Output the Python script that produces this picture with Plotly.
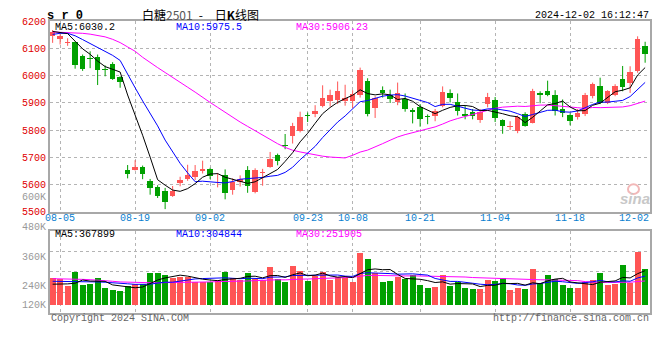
import pandas as pd
import plotly.graph_objects as go

W, H = 660, 360

# ---------------- data ----------------
holidays = ["2024-09-16", "2024-09-17", "2024-10-01", "2024-10-02", "2024-10-03",
            "2024-10-04", "2024-10-07"]
days = [d for d in pd.bdate_range("2024-08-02", "2024-12-02")
        if d.strftime("%Y-%m-%d") not in holidays]
dates = [d.strftime("%m-%d") for d in days]

opens = [6147, 6136, 6120, 6124, 6071, 6064, 6068, 6026, 6043, 5997,
         5652, 5655, 5666, 5612, 5590, 5575, 5560, 5605, 5620, 5629,
         5650, 5656, 5623, 5634, 5582, 5611, 5652, 5574, 5642, 5664,
         5708, 5747, 5777, 5798, 5857, 5861, 5888, 5908, 5911, 5908,
         5908, 5930, 5982, 5880, 5949, 5931, 5902, 5913, 5874, 5887,
         5852, 5852, 5890, 5936, 5904, 5859, 5868, 5836, 5898, 5911,
         5836, 5810, 5797, 5860, 5827, 5937, 5943, 5931, 5878, 5857,
         5848, 5858, 5926, 5961, 5900, 5929, 5990, 5975, 6017, 6109]
highs = [6168, 6153, 6138, 6126, 6078, 6090, 6078, 6038, 6050, 5998,
         5672, 5690, 5670, 5621, 5598, 5588, 5595, 5629, 5673, 5672,
         5688, 5662, 5643, 5656, 5623, 5634, 5668, 5660, 5658, 5720,
         5714, 5786, 5827, 5868, 5865, 5892, 5965, 5949, 5979, 5967,
         5947, 6030, 5991, 5925, 5961, 5949, 5975, 5935, 5881, 5896,
         5858, 5878, 5961, 5950, 5935, 5890, 5878, 5878, 5937, 5922,
         5840, 5833, 5854, 5866, 5952, 5943, 5982, 5947, 5913, 5862,
         5878, 5937, 5975, 5993, 5947, 5969, 6036, 6035, 6145, 6125]
lows = [6121, 6115, 6110, 6026, 6018, 6028, 5966, 5998, 5985, 5956,
        5623, 5652, 5620, 5563, 5551, 5510, 5555, 5594, 5614, 5617,
        5641, 5620, 5590, 5546, 5563, 5593, 5570, 5568, 5596, 5662,
        5671, 5730, 5751, 5792, 5830, 5848, 5884, 5887, 5896, 5890,
        5881, 5920, 5851, 5845, 5920, 5900, 5892, 5868, 5825, 5813,
        5822, 5833, 5884, 5902, 5854, 5840, 5840, 5827, 5884, 5830,
        5787, 5801, 5789, 5813, 5825, 5899, 5925, 5854, 5848, 5818,
        5839, 5852, 5917, 5896, 5896, 5925, 5943, 5937, 6011, 6048]
closes = [6160, 6148, 6123, 6038, 6026, 6060, 6023, 6022, 5988, 5976,
          5638, 5665, 5640, 5587, 5560, 5538, 5575, 5617, 5637, 5651,
          5656, 5633, 5626, 5570, 5611, 5622, 5594, 5655, 5648, 5694,
          5688, 5742, 5815, 5847, 5851, 5872, 5919, 5928, 5943, 5919,
          5933, 6020, 5858, 5919, 5938, 5914, 5935, 5878, 5867, 5840,
          5847, 5872, 5940, 5920, 5870, 5853, 5852, 5866, 5923, 5846,
          5816, 5814, 5848, 5816, 5943, 5931, 5928, 5872, 5862, 5833,
          5862, 5931, 5970, 5900, 5943, 5963, 5959, 6014, 6135, 6080]
volumes = [288800, 281900, 206300, 350700, 213200, 230300, 288800, 185700, 161600, 151300,
           206300, 223500, 223500, 347200, 340400, 316300, 292200, 302500, 295700, 247500,
           247500, 247500, 268200, 357600, 288800, 268200, 347200, 281900, 268200, 409100,
           275000, 247500, 419400, 367900, 257900, 306000, 357600, 271600, 299100, 288800,
           247500, 557000, 495100, 340400, 247500, 257900, 295700, 281900, 326600, 216600,
           185700, 196000, 316300, 206300, 247500, 185700, 175300, 175300, 271600, 254400,
           288800, 161600, 185700, 175300, 381600, 237200, 316300, 278500, 216600, 185700,
           185700, 244100, 264700, 340400, 220000, 223500, 429800, 237200, 567300, 381600]

# moving-average values before a full window exists
price_ma5_head = [6163, 6160, 6155, 6127]
price_ma10_head = [6152, 6156, 6156, 6147, 6133, 6118, 6103, 6090, 6075]
price_ma30_head = [6161, 6160, 6159, 6158, 6156, 6153, 6149, 6143, 6134, 6122,
                   6106, 6090, 6068, 6048, 6030, 6012, 5995, 5977, 5958, 5940,
                   5920, 5902, 5884, 5866, 5846, 5830, 5814, 5798, 5780]
vol_ma5_head = [223500, 223500, 226900, 233800]
vol_ma10_head = [254400, 254400, 251000, 251000, 247500, 247500, 247500, 244100, 240700]
vol_ma30_head = [281900, 281900, 281900, 278500, 275000, 271600, 268200, 261300, 254400, 247500,
                 244100, 240700, 237200, 233800, 237200, 240700, 240700, 244100, 244100, 244100,
                 244100, 247500, 251000, 251000, 254400, 257900, 257900, 261300, 264700]

price_ticks = [5500, 5600, 5700, 5800, 5900, 6000, 6100, 6200]
date_ticks = ["08-05", "08-19", "09-02", "09-23", "10-08", "10-21", "11-04", "11-18", "12-02"]
vol_labels = ["480K", "360K", "240K", "120K"]

legend_price = ["MA5:6030.2", "MA10:5975.5", "MA30:5906.23"]
legend_vol = ["MA5:367899", "MA10:304844", "MA30:251905"]


def moving_avg(vals, n, head):
    out = list(head)
    for i in range(len(head), len(vals)):
        out.append(sum(vals[i - n + 1:i + 1]) / n)
    return out


# ---------------- styling / geometry ----------------
RED = "#FF5555"
GREEN = "#00A000"
MA_COLORS = ["#000000", "#0000FF", "#FF00FF"]
GRID = "#B4B4B4"
BORDER = "#A8A8A8"
MONO = "Liberation Mono, Courier New, monospace"

PX0, PX1 = 50, 650                 # plot left/right pixel
P_TOP, P_BOT = 17.9, 214.4         # price panel pixels (6200 .. 5500)
V_TOP, V_BOT, V_BASE = 234.3, 318.3, 310.7
VPP = 10314                        # volume per pixel


def ydom(top, bot):
    return [1 - bot / H, 1 - top / H]


def px_x(p):
    return p / W


def px_y(p):
    return 1 - p / H


n = len(dates)
x = list(range(n))
up = [c >= o for o, c in zip(opens, closes)]
colors = [RED if u else GREEN for u in up]

fig = go.Figure()

# wicks
for color, flag in ((RED, True), (GREEN, False)):
    xs, ys = [], []
    for i in x:
        if up[i] == flag:
            xs += [i, i, None]
            ys += [lows[i], highs[i], None]
    fig.add_trace(go.Scatter(x=xs, y=ys, mode="lines", line=dict(color=color, width=1),
                             hoverinfo="skip", xaxis="x", yaxis="y"))

# bodies
fig.add_trace(go.Bar(x=x, y=[max(abs(c - o), 3) for o, c in zip(opens, closes)],
                     base=[min(o, c) for o, c in zip(opens, closes)],
                     width=0.72, marker=dict(color=colors, line=dict(width=0)),
                     hoverinfo="skip", xaxis="x", yaxis="y"))

# price MAs
for nwin, head, col in ((30, price_ma30_head, MA_COLORS[2]),
                        (10, price_ma10_head, MA_COLORS[1]),
                        (5, price_ma5_head, MA_COLORS[0])):
    fig.add_trace(go.Scatter(x=x, y=moving_avg(closes, nwin, head), mode="lines",
                             line=dict(color=col, width=1), hoverinfo="skip",
                             xaxis="x", yaxis="y"))

# volume bars
fig.add_trace(go.Bar(x=x, y=volumes, width=0.8, marker=dict(color=colors, line=dict(width=0)),
                     hoverinfo="skip", xaxis="x2", yaxis="y2"))
for nwin, head, col in ((30, vol_ma30_head, MA_COLORS[2]),
                        (10, vol_ma10_head, MA_COLORS[1]),
                        (5, vol_ma5_head, MA_COLORS[0])):
    fig.add_trace(go.Scatter(x=x, y=moving_avg(volumes, nwin, head), mode="lines",
                             line=dict(color=col, width=1), hoverinfo="skip",
                             xaxis="x2", yaxis="y2"))

tick_idx = [dates.index(d) for d in date_ticks]
grid_idx = tick_idx[:-1]

xcommon = dict(domain=[px_x(PX0), px_x(PX1)], range=[-0.35, n - 0.35],
               tickmode="array", tickvals=grid_idx, showticklabels=False, ticks="",
               showgrid=True, gridcolor=GRID, griddash="dot", gridwidth=1,
               showline=True, mirror=True, linecolor=BORDER, linewidth=2, zeroline=False)

vol_grid_px = [V_TOP + (V_BOT - V_TOP) * k / 4 for k in (1, 2, 3)]
vol_grid_vals = [(V_BASE - p) * VPP for p in vol_grid_px]

fig.update_layout(
    width=W, height=H, margin=dict(l=0, r=0, t=0, b=0),
    paper_bgcolor="white", plot_bgcolor="white", showlegend=False,
    bargap=0, barmode="overlay",
    xaxis=dict(anchor="y", **xcommon),
    xaxis2=dict(anchor="y2", matches="x", **xcommon),
    yaxis=dict(domain=ydom(P_TOP, P_BOT), range=[price_ticks[0], price_ticks[-1]],
               tickmode="array", tickvals=price_ticks, ticktext=[str(t) for t in price_ticks],
               tickfont=dict(family=MONO, size=10, color="#E00000"), ticks="",
               showgrid=True, gridcolor=GRID, griddash="dot", gridwidth=1,
               showline=True, mirror=True, linecolor=BORDER, linewidth=2, zeroline=False,
               anchor="x"),
    yaxis2=dict(domain=ydom(V_TOP, V_BOT),
                range=[-(V_BOT - V_BASE) * VPP, (V_BASE - V_TOP) * VPP],
                tickmode="array", tickvals=vol_grid_vals, showticklabels=False, ticks="",
                showgrid=True, gridcolor=GRID, griddash="dot", gridwidth=1,
                showline=True, mirror=True, linecolor=BORDER, linewidth=2, zeroline=False,
                anchor="x2"),
)

ann = []


def add_text(text, xp, yp, color="#000", size=10, anchor="left", family=MONO, **kw):
    ann.append(dict(text=text, x=px_x(xp), y=px_y(yp), xref="paper", yref="paper",
                    xanchor=anchor, yanchor="middle", showarrow=False,
                    font=dict(family=family, size=size, color=color), borderpad=0, **kw))


# header
add_text("<b>s r 0</b>", 46, 12, size=12)
add_text("白糖<span style='color:#555'>2501</span>\u2002-\u2002\u2002日<b>K</b>线图", 200, 10.5,
         size=12, anchor="center", family="Noto Sans CJK SC, sans-serif")
add_text("2024-12-02 16:12:47", 650, 12, anchor="right")

# legends
for txt, xp, col in zip(legend_price, (54, 175, 295), MA_COLORS):
    add_text(txt, xp, 24.5, color=col)
for txt, xp, col in zip(legend_vol, (54, 175, 295), MA_COLORS):
    add_text(txt, xp, 238, color=col)

# date labels
for d, i in zip(date_ticks, tick_idx):
    if i == n - 1:
        add_text(d, 650, 221, color="#0A7FD0", anchor="right")
    else:
        ann.append(dict(text=d, x=i, y=px_y(221), xref="x", yref="paper", xanchor="center",
                        yanchor="middle", showarrow=False,
                        font=dict(family=MONO, size=10, color="#0A7FD0")))

# volume axis labels
for txt, yp in zip(vol_labels, (231, 261, 291, 311)):
    add_text(txt, 47, yp, color="#999999", anchor="right")
add_text("600K", 47, 200, color="#999999", anchor="right")

# footer
add_text("Copyright 2024 SINA.COM", 50, 324, color="#666666")
add_text("http://finance.sina.com.cn", 650, 324, color="#666666", anchor="right")

# watermark
add_text("<b><i>sina</i></b>", 635, 201, color="#C8C8C8", size=15, anchor="center",
         family="Liberation Sans, Arial, sans-serif")

fig.update_layout(annotations=ann,
                  shapes=[dict(type="circle", xref="paper", yref="paper",
                               x0=px_x(628), x1=px_x(639), y0=px_y(196), y1=px_y(186),
                               line=dict(color="#F2B8B8", width=2))])

fig.write_html("out.html", config={"displayModeBar": False, "staticPlot": True},
               post_script="document.body.style.margin='0px';"
                           "document.body.style.overflow='hidden';")
